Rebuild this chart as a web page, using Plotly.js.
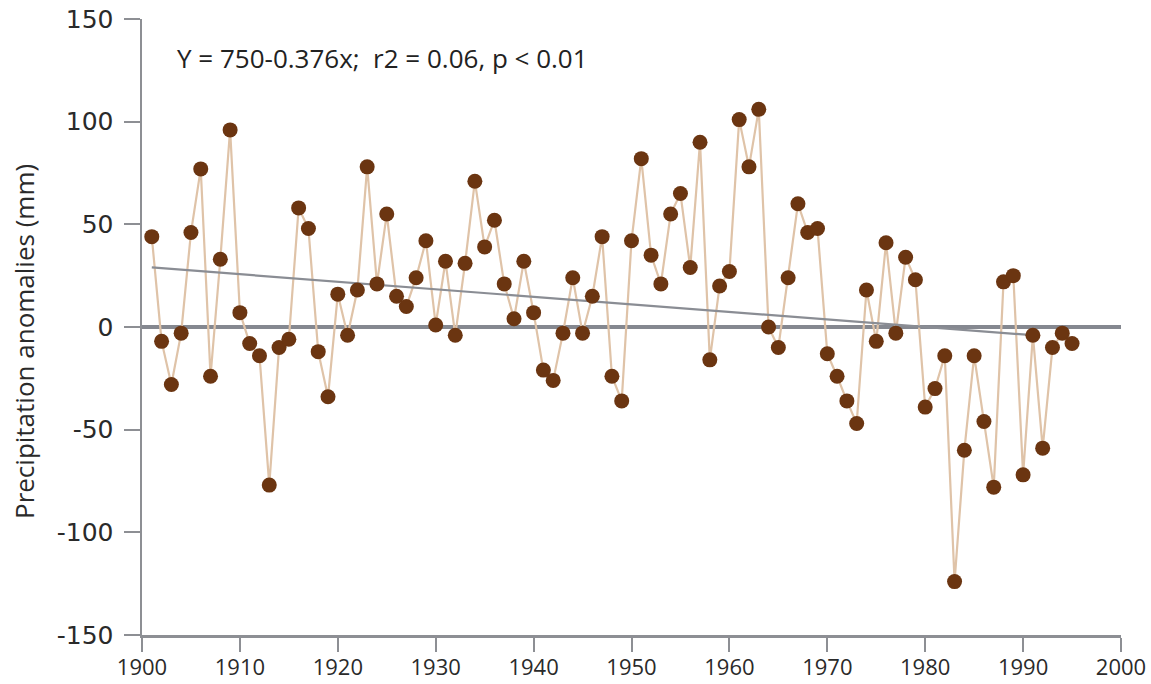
<!DOCTYPE html>
<html>
<head>
<meta charset="utf-8">
<script src="https://cdn.plot.ly/plotly-3.0.1.min.js"></script>
<style>
html,body{margin:0;padding:0;background:#fff;}
#chart{width:1151px;height:684px;}
</style>
</head>
<body>
<div id="chart"></div>
<script>
const years = [1901,1902,1903,1904,1905,1906,1907,1908,1909,1910,
  1911,1912,1913,1914,1915,1916,1917,1918,1919,1920,
  1921,1922,1923,1924,1925,1926,1927,1928,1929,1930,
  1931,1932,1933,1934,1935,1936,1937,1938,1939,1940,
  1941,1942,1943,1944,1945,1946,1947,1948,1949,1950,
  1951,1952,1953,1954,1955,1956,1957,1958,1959,1960,
  1961,1962,1963,1964,1965,1966,1967,1968,1969,1970,
  1971,1972,1973,1974,1975,1976,1977,1978,1979,1980,
  1981,1982,1983,1984,1985,1986,1987,1988,1989,1990,
  1991,1992,1993,1994,1995];
const anomalies = [44,-7,-28,-3,46,77,-24,33,96,7,
  -8,-14,-77,-10,-6,58,48,-12,-34,16,
  -4,18,78,21,55,15,10,24,42,1,
  32,-4,31,71,39,52,21,4,32,7,
  -21,-26,-3,24,-3,15,44,-24,-36,42,
  82,35,21,55,65,29,90,-16,20,27,
  101,78,106,0,-10,24,60,46,48,-13,
  -24,-36,-47,18,-7,41,-3,34,23,-39,
  -30,-14,-124,-60,-14,-46,-78,22,25,-72,
  -4,-59,-10,-3,-8];
const trendYears = [1901, 1991];
const trendValues = [29, -4];
const xTicks = [1900,1910,1920,1930,1940,1950,1960,1970,1980,1990,2000];
const yTicks = [-150,-100,-50,0,50,100,150];
const equationText = "Y = 750-0.376x;  r2 = 0.06, p < 0.01";
const yTitle = "Precipitation anomalies (mm)";

const traces = [
  {
    x: years, y: anomalies, type: 'scatter', mode: 'lines',
    line: {color: '#dfc3a8', width: 2.2},
    hoverinfo: 'skip', showlegend: false
  },
  {
    x: trendYears, y: trendValues, type: 'scatter', mode: 'lines',
    line: {color: '#8a8d94', width: 2.2},
    hoverinfo: 'skip', showlegend: false
  },
  {
    x: years, y: anomalies, type: 'scatter', mode: 'markers',
    marker: {color: '#6b3511', size: 15, line: {width: 0}},
    showlegend: false
  }
];

const layout = {
  width: 1151, height: 684,
  margin: {l: 142, r: 30, t: 19, b: 49},
  paper_bgcolor: '#ffffff', plot_bgcolor: '#ffffff',
  showlegend: false,
  xaxis: {
    range: [1900, 2000], tickmode: 'array', tickvals: xTicks,
    ticktext: xTicks.map(String),
    showgrid: false, zeroline: false,
    showline: true, linecolor: '#8d8f94', linewidth: 2.5,
    ticks: 'outside', ticklen: 14, tickwidth: 2, tickcolor: '#8d8f94',
    ticklabelstandoff: -3,
    tickfont: {family: '"Liberation Sans Narrow", "Open Sans", sans-serif', size: 22, color: '#2a2a2a'}
  },
  yaxis: {
    range: [-150, 150], tickmode: 'array', tickvals: yTicks,
    ticktext: yTicks.map(String),
    showgrid: false, zeroline: true, zerolinecolor: '#858890', zerolinewidth: 4,
    showline: true, linecolor: '#8d8f94', linewidth: 2.5,
    ticks: 'outside', ticklen: 16, tickwidth: 2, tickcolor: '#8d8f94',
    ticklabelstandoff: 5,
    tickfont: {family: '"DejaVu Sans", sans-serif', size: 25, color: '#2a2a2a'}
  },
  annotations: [
    {
      text: equationText, xref: 'paper', yref: 'paper',
      x: (175 - 142) / 979, y: 1 - (58 - 19) / 616,
      xanchor: 'left', yanchor: 'middle', showarrow: false,
      font: {family: '"Open Sans", sans-serif', size: 26, color: '#222'}
    },
    {
      text: yTitle, xref: 'paper', yref: 'paper',
      x: (24 - 142) / 979, y: 1 - (342 - 19) / 616,
      xanchor: 'center', yanchor: 'middle', textangle: -90, showarrow: false,
      font: {family: '"Open Sans", sans-serif', size: 26, color: '#2a2a2a'}
    }
  ]
};

Plotly.newPlot('chart', traces, layout, {displayModeBar: false, staticPlot: true});
</script>
</body>
</html>
